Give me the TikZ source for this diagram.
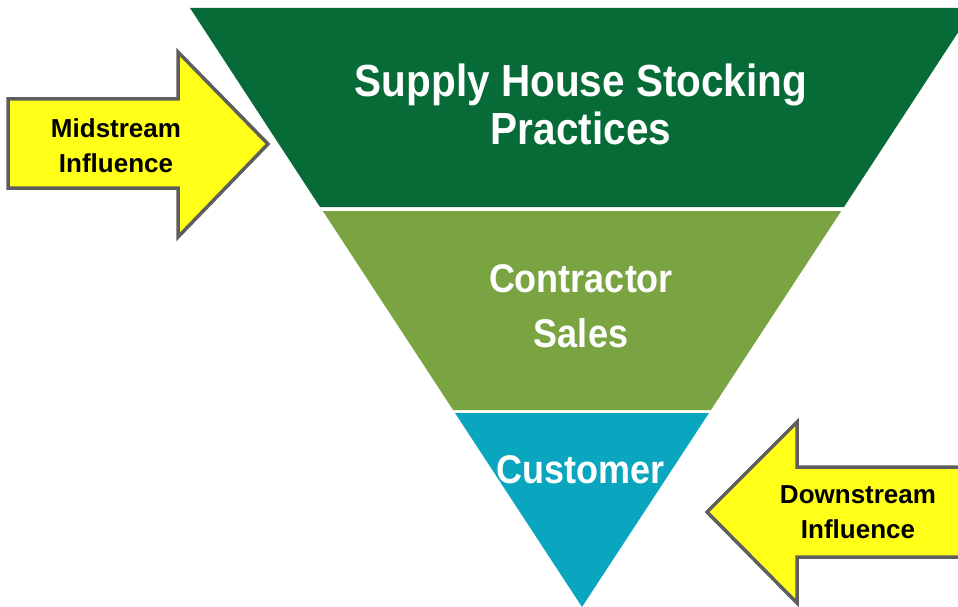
\documentclass[tikz,border=0pt]{standalone}
\usepackage{fontspec}
\setmainfont{Liberation Sans}
\newfontfamily\narrowsans{Liberation Sans}[FakeStretch=0.9]
\definecolor{darkband}{HTML}{066B37}
\definecolor{midband}{HTML}{7AA342}
\definecolor{lowband}{HTML}{0AA6BF}
\definecolor{arrowfill}{HTML}{FFFF17}
\definecolor{arrowline}{HTML}{5E5E5E}

\begin{document}
\begin{tikzpicture}[x = 1pt, y = -1pt,
        band/.style = {draw = none},
        bandtext/.style = {white, anchor = base, align = center, font = \narrowsans\bfseries},
        influence/.style = {fill = arrowfill, draw = arrowline, line width = 3.5pt, line join = miter},
        influtext/.style = {black, anchor = base, align = center, font = \fontsize{26}{35}\selectfont\bfseries}
    ]
        \clip (0,0) rectangle (958,607);

        % the three bands of the funnel
        \fill[band, darkband] (190,8) -- (974,8) -- (844,207) -- (320,207) -- cycle;
        \fill[band, midband] (322.8,211) -- (841.2,211) -- (710.9,410) -- (453.1,410) -- cycle;
        \fill[band, lowband] (455,413) -- (709,413) -- (582,607) -- cycle;

        \node[bandtext, font = \narrowsans\bfseries\fontsize{45}{48}\selectfont] (supply) at (581,145) {Supply House Stocking\\Practices};
        \node[bandtext, font = \narrowsans\bfseries\fontsize{40}{55}\selectfont] (contractor) at (581,347) {Contractor\\Sales};
        \node[bandtext, font = \narrowsans\bfseries\fontsize{40}{55}\selectfont] (customer) at (581,483) {Customer};

        % influence arrows
        \draw[influence] (8,99) -- (178,99) -- (178,52) -- (268,144) -- (178,237) -- (178,188) -- (8,188) -- cycle;
        \draw[influence] (975,467) -- (797,467) -- (797,422) -- (707,512) -- (797,603) -- (797,557) -- (975,557) -- cycle;

        \node[influtext] (mid) at (116,172) {Midstream\\Influence};
        \node[influtext] (down) at (858,538) {Downstream\\Influence};

    \end{tikzpicture}
\end{document}
